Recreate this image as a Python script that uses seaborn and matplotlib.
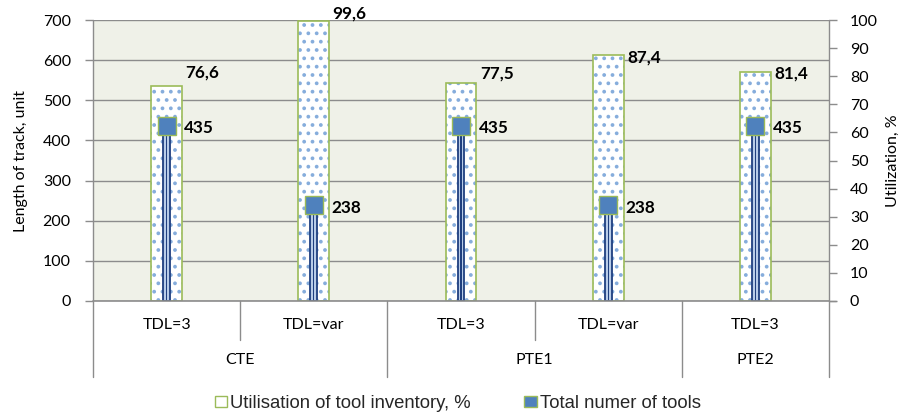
import matplotlib
matplotlib.use("Agg")
import matplotlib.pyplot as plt
from matplotlib.patches import Patch
import seaborn as sns
import pandas as pd

# ---- data ----
groups = ["CTE", "CTE", "PTE1", "PTE1", "PTE2"]
tdl = ["TDL=3", "TDL=var", "TDL=3", "TDL=var", "TDL=3"]
utilisation = [76.6, 99.6, 77.5, 87.4, 81.4]
total_tools = [435, 238, 435, 238, 435]
left_ticks = [0, 100, 200, 300, 400, 500, 600, 700]
right_ticks = [0, 10, 20, 30, 40, 50, 60, 70, 80, 90, 100]
group_names = ["CTE", "PTE1", "PTE2"]

keys = [f"{g}|{t}" for g, t in zip(groups, tdl)]
df = pd.DataFrame({"key": keys, "util": utilisation, "tools": total_tools})

# ---- style ----
sns.set_theme(style="white")
plt.rcParams["font.family"] = ["Lato", "DejaVu Sans"]
BG = "#EFF1E8"
GRID = "#8C8C8C"
SPINE = "#8C8C8C"
GREEN = "#9BBB59"
HATCH_BLUE = "#86ADDC"
DARK_BLUE = "#1F3F7F"
MARK_BLUE = "#4F81BD"
util_label_dy_px = [13, 8, 10, -2, -1]

fig = plt.figure(figsize=(9.01, 4.15), dpi=100)
ax = fig.add_axes([93 / 901, 1 - 301 / 415, 736 / 901, 281 / 415])
ax2 = ax.twinx()
ax.set_zorder(ax2.get_zorder() + 1)
ax.patch.set_visible(False)
ax2.patch.set_facecolor(BG)
ax2.patch.set_visible(True)

# gridlines (on the lower axes, beneath the bars)
for v in left_ticks:
    ax2.axhline(v * 100 / 700, color=GRID, lw=1.0, zorder=0.5)

# wide utilisation bars (right axis)
plt.rcParams["hatch.linewidth"] = 1.5
sns.barplot(data=df, x="key", y="util", ax=ax2, width=0.21, color="white",
            saturation=1, errorbar=None)
for p in ax2.patches:
    p.set_facecolor("white")
    p.set_edgecolor(HATCH_BLUE)
    p.set_hatch("..")
    p.set_linewidth(0)
    p.set_zorder(1)
sns.barplot(data=df, x="key", y="util", ax=ax2, width=0.21, fill=False,
            color=GREEN, saturation=1, errorbar=None, linewidth=1.2)
for p in ax2.patches[len(keys):]:
    p.set_edgecolor(GREEN)
    p.set_zorder(1.1)

# narrow tools bars (left axis)
sns.barplot(data=df, x="key", y="tools", ax=ax, width=0.045, color="#B8CCE8",
            saturation=1, errorbar=None, edgecolor=DARK_BLUE, linewidth=1.3)
sns.barplot(data=df, x="key", y="tools", ax=ax, width=0.008, color=DARK_BLUE,
            saturation=1, errorbar=None, linewidth=0)
sns.pointplot(data=df, x="key", y="tools", ax=ax, linestyle="none", marker="s",
              color=MARK_BLUE, markersize=13, markeredgecolor=GREEN,
              markeredgewidth=1.0, errorbar=None)

ax.set_ylim(0, 700)
ax2.set_ylim(0, 100)
ax.set_xlim(-0.5, len(keys) - 0.5)
ax.set_yticks(left_ticks)
ax2.set_yticks(right_ticks)
ax.set_xticks([])
ax2.set_xticks([])
ax.set_xlabel("")
ax2.set_xlabel("")

for a in (ax, ax2):
    for s in a.spines.values():
        s.set_visible(False)

ax.tick_params(axis="y", left=True, length=6, width=1, color=SPINE, pad=10,
               labelsize=11.5, labelcolor="#000000")
ax2.tick_params(axis="y", right=True, length=6, width=1, color=SPINE, pad=9,
                labelsize=11.5, labelcolor="#000000")
ax.set_ylabel("Length of track, unit", fontsize=11.5, color="#000000")
ax.yaxis.set_label_coords(-0.088, 0.5)
ax2.set_ylabel("Utilization, %", fontsize=11.5, color="#000000", rotation=90)
ax2.yaxis.set_label_coords(1.0774, 0.5)

# value labels
for i, (u, dy) in enumerate(zip(utilisation, util_label_dy_px)):
    ax2.annotate(f"{u:.1f}".replace(".", ","), xy=(i + 0.105, u),
                 xytext=(2.5, dy * 0.72), textcoords="offset points",
                 ha="left", va="center", fontsize=12.3, fontweight="bold",
                 color="#000000")
for i, t in enumerate(total_tools):
    ax.annotate(f"{t}", xy=(i, t), xytext=(12.6, -1.5),
                textcoords="offset points", ha="left", va="center",
                fontsize=12.3, fontweight="bold", color="#000000", zorder=5)

# category table below axis
xt = ax.get_xaxis_transform()
ax.plot([0, 1], [0, 0], transform=ax.transAxes, color=SPINE, lw=1.2, clip_on=False)
ax.plot([1, 1.009], [0, 0], transform=ax.transAxes, color=SPINE, lw=1.0, clip_on=False)
ax.plot([0, 0], [-0.27, 1], transform=ax.transAxes, color=SPINE, lw=1.0, clip_on=False)
ax.plot([1, 1], [-0.27, 1], transform=ax.transAxes, color=SPINE, lw=1.0, clip_on=False)
for i in range(len(keys) - 1):
    b = i + 0.5
    bottom = -0.27 if groups[i] != groups[i + 1] else -0.139
    ax.plot([b, b], [0, bottom], transform=xt, color=SPINE, lw=1.0, clip_on=False)
for i, t in enumerate(tdl):
    ax.text(i, -0.085, t, transform=xt, ha="center", va="center",
            fontsize=11.5, color="#000000")
for g in group_names:
    idx = [i for i, gg in enumerate(groups) if gg == g]
    ax.text(sum(idx) / len(idx), -0.21, g, transform=xt, ha="center",
            va="center", fontsize=11.5, color="#000000")

# legend
handles = [
    Patch(facecolor="white", edgecolor=GREEN, linewidth=1),
    Patch(facecolor=MARK_BLUE, edgecolor=GREEN, linewidth=1),
]
fig.legend(handles, ["Utilisation of tool inventory, %", "Total numer of tools"],
           loc="center", bbox_to_anchor=(0.508, 0.028), ncol=2, frameon=False,
           handlelength=0.68, handleheight=0.55, handletextpad=0.15,
           columnspacing=2.9, prop={"family": ["Liberation Sans"], "size": 13.3})

fig.savefig("out.png", dpi=100)
